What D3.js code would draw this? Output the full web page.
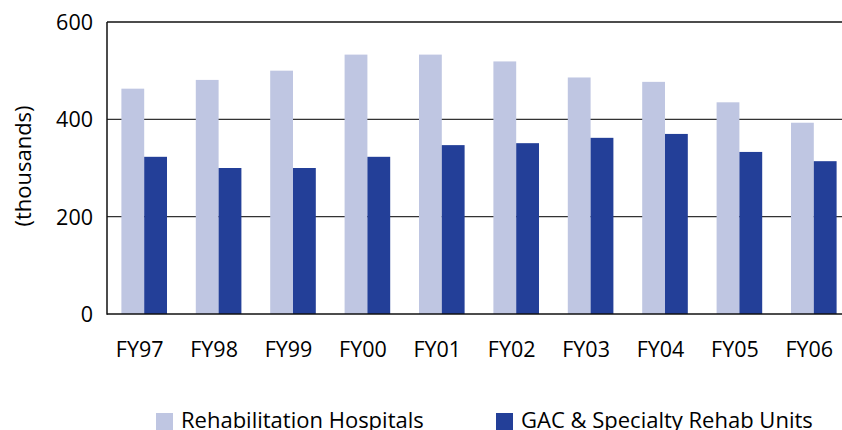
<!DOCTYPE html>
<html>
<head>
<meta charset="utf-8">
<script src="https://cdn.jsdelivr.net/npm/d3@7"></script>
<style>
  body { margin: 0; background: #fff; }
  svg { display: block; }
</style>
</head>
<body>
<div id="chart"></div>
<script>
const categories = ['FY97', 'FY98', 'FY99', 'FY00', 'FY01', 'FY02', 'FY03', 'FY04', 'FY05', 'FY06'];
const rehabHospitals = [463, 481, 500, 533, 533, 519, 486, 477, 435, 393];
const gacUnits = [323, 300, 300, 323, 347, 351, 362, 370, 333, 314];
const seriesNames = ['Rehabilitation Hospitals', 'GAC & Specialty Rehab Units'];
const yTicks = [0, 200, 400, 600];

const width = 842, height = 430;
const margin = { top: 22, left: 107, bottom: 116 };
const plotWidth = 744; // runs past the right edge, as in the original
const plotHeight = height - margin.top - margin.bottom;

const svg = d3.select('#chart').append('svg')
    .attr('width', width)
    .attr('height', height);

const fontFamily = '"Open Sans", sans-serif';

const x = d3.scaleBand()
    .domain(categories)
    .range([margin.left, margin.left + plotWidth])
    .paddingInner(0.387)
    .paddingOuter(0.1935);

const xInner = d3.scaleBand()
    .domain(seriesNames)
    .range([0, x.bandwidth()]);

const y = d3.scaleLinear()
    .domain([0, 600])
    .range([margin.top + plotHeight, margin.top]);

const colors = d3.scaleOrdinal()
    .domain(seriesNames)
    .range(['#bfc6e2', '#233f98']);

// gridlines
svg.append('g')
    .selectAll('line')
    .data(yTicks.filter(d => d > 0))
    .enter().append('line')
    .attr('x1', margin.left)
    .attr('x2', margin.left + plotWidth)
    .attr('y1', d => y(d))
    .attr('y2', d => y(d))
    .style('stroke', d => d === 600 ? '#111' : '#333')
    .style('stroke-width', d => d === 600 ? 1.5 : 1.3);

// bars
const rows = categories.map((c, i) => ({ cat: c, values: [rehabHospitals[i], gacUnits[i]] }));

const group = svg.append('g')
    .selectAll('g')
    .data(rows)
    .enter().append('g')
    .attr('transform', d => `translate(${x(d.cat)},0)`);

group.selectAll('rect')
    .data(d => d.values.map((v, i) => ({ name: seriesNames[i], value: v })))
    .enter().append('rect')
    .attr('x', d => xInner(d.name))
    .attr('y', d => y(d.value))
    .attr('width', xInner.bandwidth())
    .attr('height', d => y(0) - y(d.value))
    .style('fill', d => colors(d.name));

// axis lines
svg.append('line')
    .attr('x1', margin.left).attr('x2', margin.left)
    .attr('y1', margin.top).attr('y2', y(0) + 0.75)
    .style('stroke', '#111').style('stroke-width', 1.5);

svg.append('line')
    .attr('x1', margin.left).attr('x2', margin.left + plotWidth)
    .attr('y1', y(0)).attr('y2', y(0))
    .style('stroke', '#111').style('stroke-width', 1.5);

// y tick labels
svg.append('g')
    .selectAll('text')
    .data(yTicks)
    .enter().append('text')
    .attr('x', margin.left - 14)
    .attr('y', d => y(d))
    .attr('dy', '0.37em')
    .attr('text-anchor', 'end')
    .style('font-family', fontFamily)
    .style('font-size', '21.5px')
    .text(d => d);

// x tick labels
svg.append('g')
    .selectAll('text')
    .data(categories)
    .enter().append('text')
    .attr('x', d => x(d) + x.bandwidth() / 2 - 4.5)
    .attr('y', 357)
    .attr('text-anchor', 'middle')
    .style('font-family', fontFamily)
    .style('font-size', '21.5px')
    .text(d => d);

// y axis title
svg.append('text')
    .attr('transform', 'translate(31,166) rotate(-90)')
    .attr('text-anchor', 'middle')
    .style('font-family', fontFamily)
    .style('font-size', '22px')
    .text('(thousands)');

// legend
const legendX = [156, 496];
const legend = svg.append('g')
    .selectAll('g')
    .data(seriesNames)
    .enter().append('g')
    .attr('transform', (d, i) => `translate(${legendX[i]},413)`);

legend.append('rect')
    .attr('width', 17)
    .attr('height', 17)
    .style('fill', d => colors(d));

legend.append('text')
    .attr('x', 25)
    .attr('y', 15)
    .style('font-family', fontFamily)
    .style('font-size', '22px')
    .text(d => d);
</script>
</body>
</html>
